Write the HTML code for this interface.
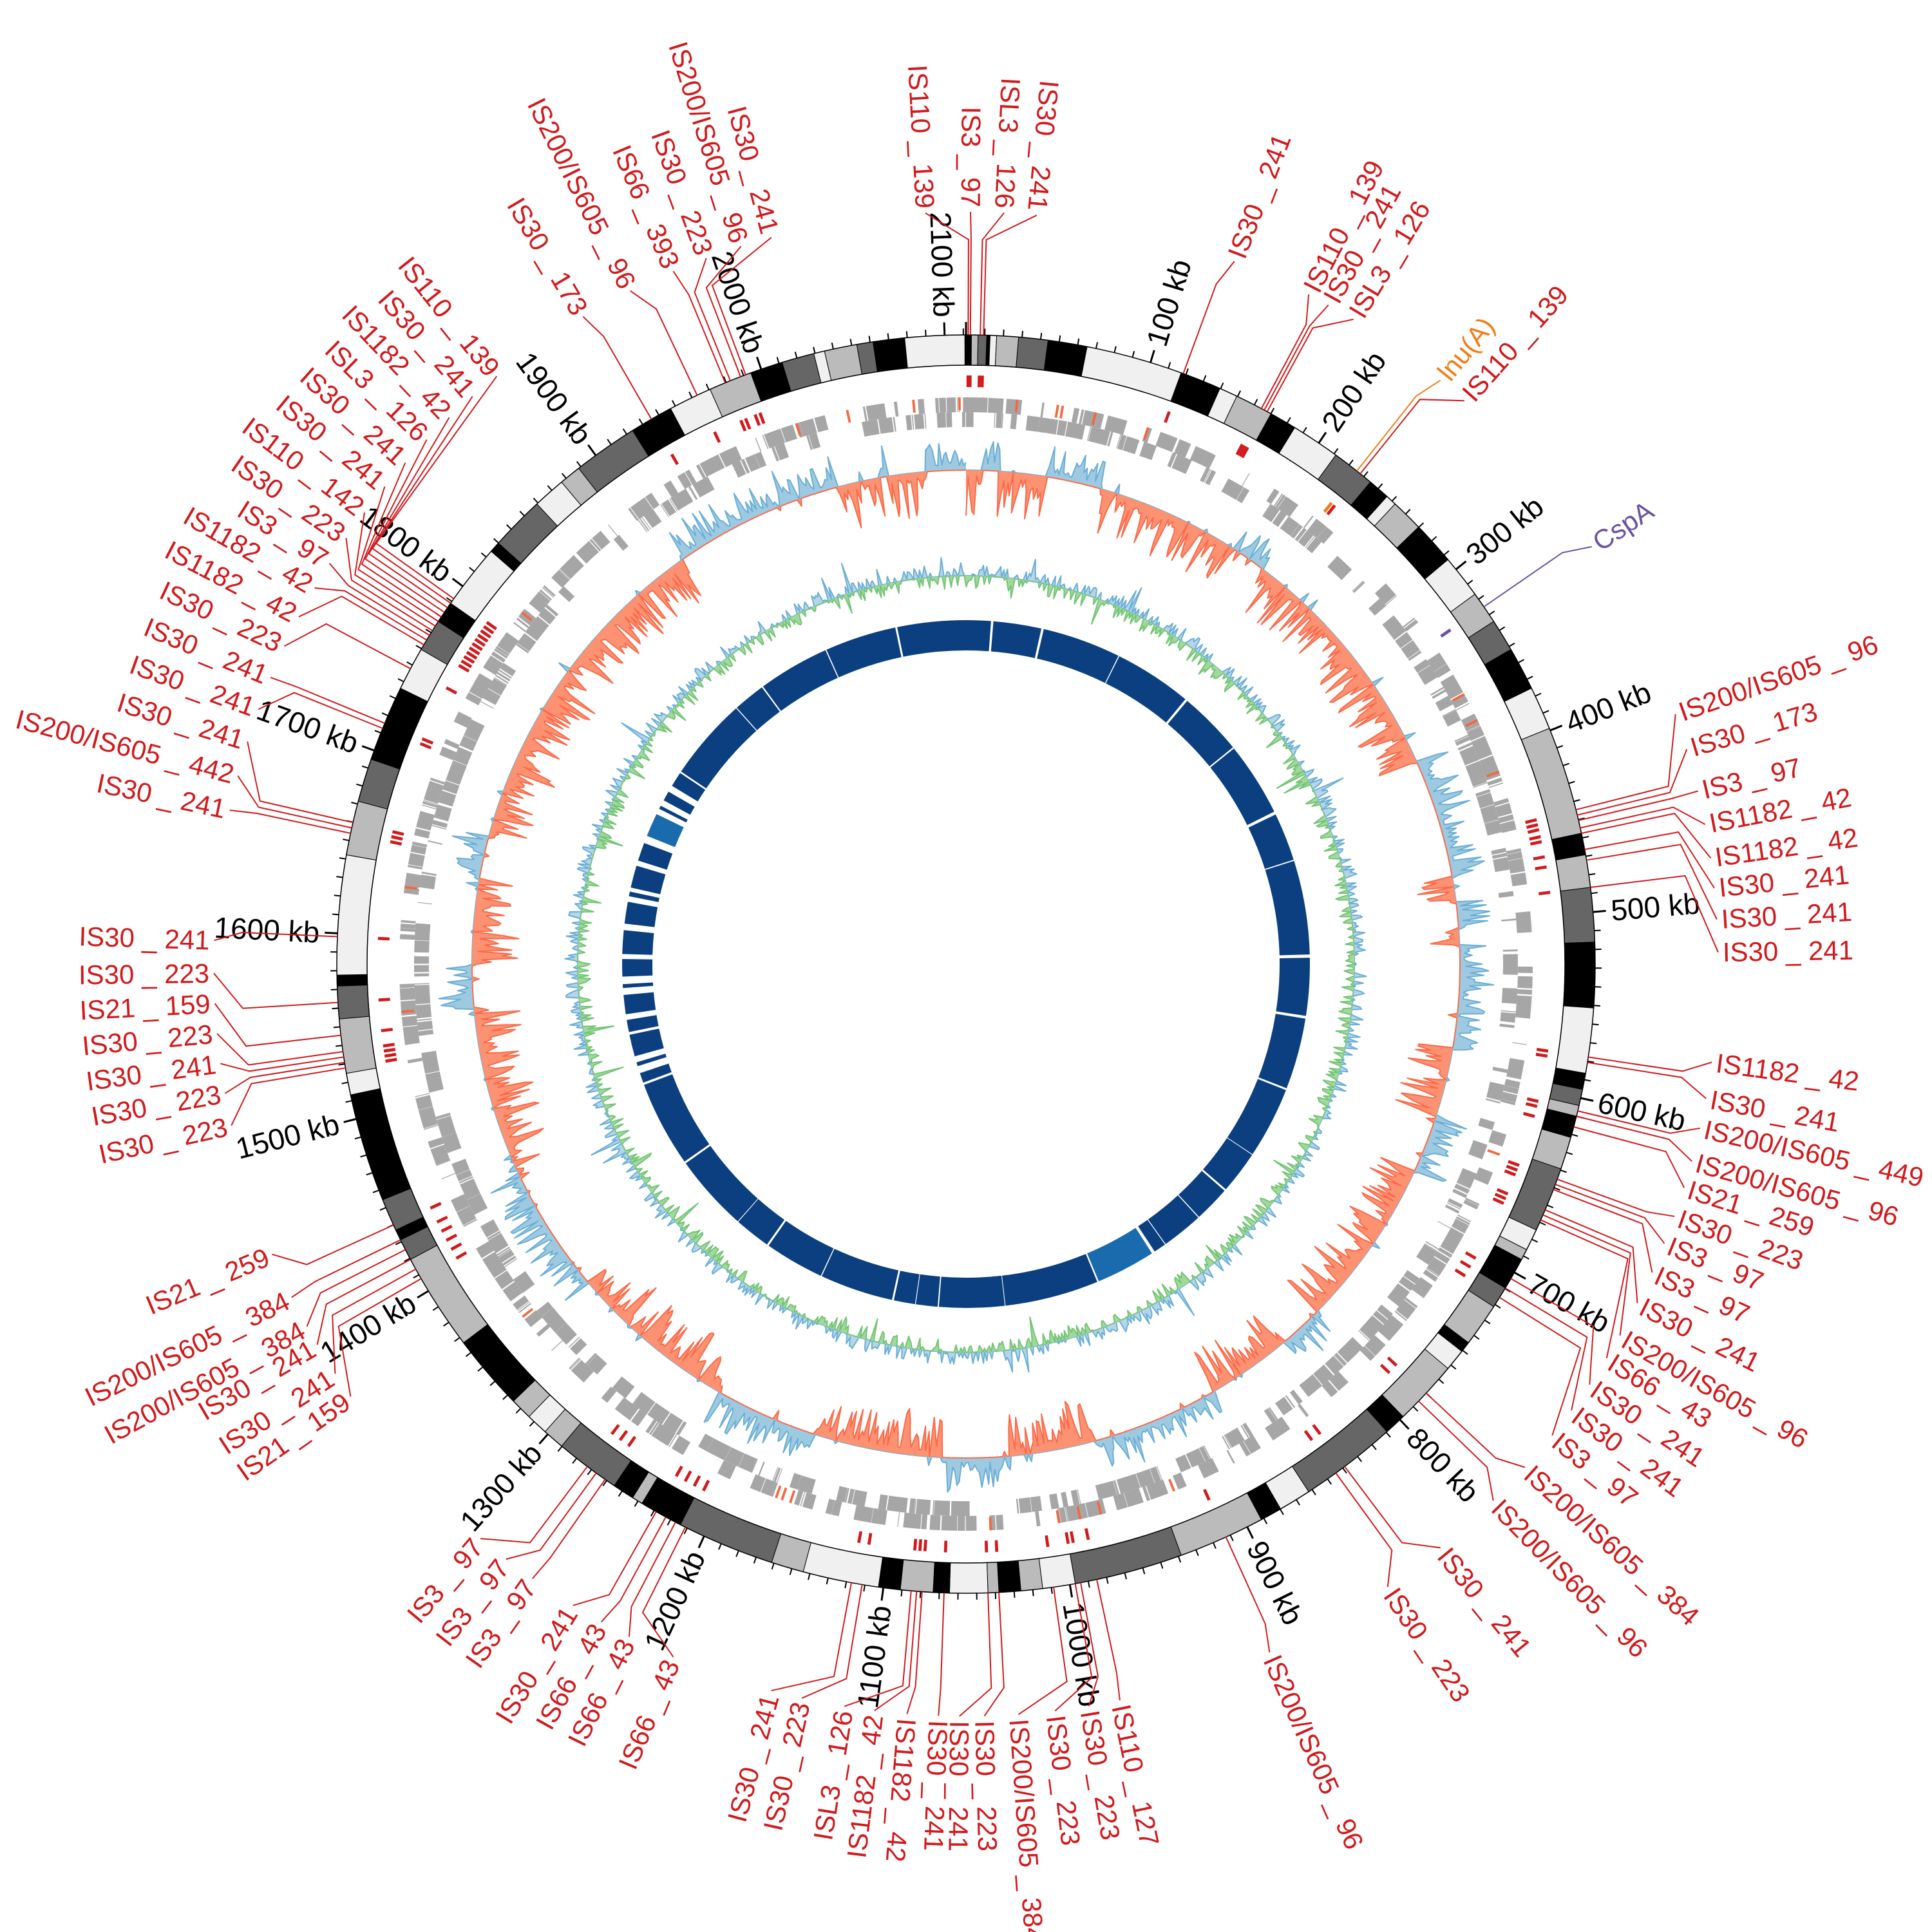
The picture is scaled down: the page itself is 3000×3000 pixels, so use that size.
<!DOCTYPE html>
<html><head><meta charset="utf-8"><style>
html,body{margin:0;padding:0;background:#fff}
svg{display:block}
text{font-family:"Liberation Sans Narrow","Liberation Sans",sans-serif}
</style></head><body>
<svg id="s" xmlns="http://www.w3.org/2000/svg" width="3000" height="3000" viewBox="0 0 3000 3000">
<rect width="3000" height="3000" fill="#fff"/>
<g id="g"></g>
</svg>
<script>
var CX=1500,CY=1497,NS="http://www.w3.org/2000/svg",G=document.getElementById("g");
var seed=12345;function rnd(){seed|=0;seed=seed+0x6D2B79F5|0;var t=Math.imul(seed^seed>>>15,1|seed);t=t+Math.imul(t^t>>>7,61|t)^t;return((t^t>>>14)>>>0)/4294967296;}
function P(r,a){var t=a*Math.PI/180;return[CX+r*Math.sin(t),CY-r*Math.cos(t)];}
function f(n){return n.toFixed(1);}
function sector(r1,r2,a1,a2){var p1=P(r2,a1),p2=P(r2,a2),p3=P(r1,a2),p4=P(r1,a1),l=(a2-a1)>180?1:0;
return"M"+f(p1[0])+","+f(p1[1])+"A"+r2+","+r2+" 0 "+l+" 1 "+f(p2[0])+","+f(p2[1])+"L"+f(p3[0])+","+f(p3[1])+"A"+r1+","+r1+" 0 "+l+" 0 "+f(p4[0])+","+f(p4[1])+"Z";}
function el(n,at,txt){var e=document.createElementNS(NS,n);for(var k in at)e.setAttribute(k,at[k]);if(txt!=null)e.textContent=txt;G.appendChild(e);return e;}
var C={K:"#000",D:"#666",G:"#bbb",L:"#f0f0f0"};
var bands=[[0,"K"],[0.5,"G"],[1.1,"D"],[1.9,"K"],[2.2,"L"],[2.8,"G"],[4.8,"D"],[7.5,"K"],[11.1,"L"],[20,"K"],[23.8,"L"],[25.5,"G"],[29,"K"],[31.5,"L"],[36,"D"],[40,"K"],[42,"L"],[43,"G"],[46,"K"],[50,"L"],[54,"G"],[57,"D"],[60,"K"],[64,"L"],[68,"G"],[78,"K"],[80,"G"],[83,"D"],[88,"K"],[94,"L"],[100,"K"],[101.5,"D"],[103,"G"],[104,"K"],[106,"G"],[109,"D"],[115,"L"],[117,"G"],[118,"K"],[121,"D"],[123,"G"],[127,"K"],[128,"L"],[130,"G"],[136,"K"],[138,"D"],[147,"L"],[150,"K"],[152,"G"],[160,"D"],[170,"L"],[173,"G"],[175,"K"],[177,"G"],[178,"L"],[181.5,"K"],[183,"G"],[186,"K"],[188,"L"],[195,"G"],[198,"D"],[207,"K"],[211,"G"],[212,"K"],[214,"D"],[220,"G"],[222,"L"],[224,"G"],[226,"K"],[233,"G"],[242,"D"],[244,"K"],[245,"D"],[248,"K"],[258,"L"],[260,"G"],[265,"D"],[268,"K"],[269,"L"],[280,"G"],[285,"D"],[289,"K"],[296,"L"],[300,"D"],[303,"K"],[305,"L"],[311,"K"],[312,"D"],[317,"L"],[320,"G"],[322,"D"],[328,"K"],[332,"L"],[336,"G"],[340,"K"],[343,"D"],[346,"L"],[347,"G"],[350,"D"],[351.5,"K"],[354.4,"L"],[359.9,"K"],[360,"K"]];
var R1=930,R2=977;
for(var i=0;i<bands.length-1;i++){el("path",{d:sector(R1,R2,bands[i][0],bands[i+1][0]),fill:C[bands[i][1]],stroke:"#000","stroke-width":1});}
el("circle",{cx:CX,cy:CY,r:R2,fill:"none",stroke:"#000","stroke-width":1.5});
el("circle",{cx:CX,cy:CY,r:R1,fill:"none",stroke:"#000","stroke-width":1.5});
var D100=17.05;
for(var k=0;k<=211;k++){var a=k*D100/10,maj=(k%10==0);var p=P(R2,a),q=P(R2+(maj?20:10),a);el("line",{x1:f(p[0]),y1:f(p[1]),x2:f(q[0]),y2:f(q[1]),stroke:"#000","stroke-width":maj?3:2});}
var tl=["100 kb","200 kb","300 kb","400 kb","500 kb","600 kb","700 kb","800 kb","900 kb","1000 kb","1100 kb","1200 kb","1300 kb","1400 kb","1500 kb","1600 kb","1700 kb","1800 kb","1900 kb","2000 kb","2100 kb"];
function rl(a,r,txt,col,fs){var aa=((a%360)+360)%360;var right=aa>8&&aa<185;var p=P(r,a);
el("text",{x:f(p[0]),y:f(p[1]),fill:col,"font-size":fs,"text-anchor":right?"start":"end","dominant-baseline":"central",transform:"rotate("+f(right?a-90:a+90)+" "+f(p[0])+" "+f(p[1])+")"},txt);}
for(var k=0;k<tl.length;k++)rl((k+1)*D100,1005,tl[k],"#000",46);
function genes(r1,r2,dens){var a=0;while(a<360){var L=0.08+Math.pow(rnd(),2)*2.2;if(rnd()<dens){el("path",{d:sector(r1,r2,a,Math.min(360,a+L)),fill:"#a6a6a6"});}a+=L+rnd()*0.15;}}
genes(857,880,0.58);genes(834,857,0.58);
for(var i=0;i<25;i++){var a=rnd()*360;el("path",{d:sector(860,880,a,a+0.25),fill:"#f4683f"});}
var segs=[[0,2,-1],[2,4,1],[4,9.5,-1],[9.5,16,1],[16,33,-1],[33,37,1],[37,66,-1],[66,80,1],[80,83,-1],[83,86,1],[86,88,-1],[88,100,1],[100,108,-1],[108,115,1],[115,135,-1],[135,140,1],[140,150,-1],[150,165,1],[165,175,-1],[175,183,1],[183,198,-1],[198,210,1],[210,230,-1],[230,245,1],[245,265,-1],[265,270,1],[270,280,-1],[280,285,1],[285,325,-1],[325,345,1],[345,350,-1],[350,351,1],[351,355.3,-1],[355.3,360,1]];
function sgn(a){for(var i=0;i<segs.length;i++)if(a>=segs[i][0]&&a<segs[i][1])return segs[i][2];return 1;}
var st=0.25,vals=[];
for(var i=0;i*st<=360;i++){var a=i*st;var s=sgn(a);var r=rnd();var v=s*(s>0?55:72)*(0.12+0.88*r*r);if(rnd()<0.05)v=-v*0.3;vals.push(v);}
function plot(base,vals,pos,fill,stroke){var pts=[],bp=[];
for(var i=0;i<vals.length;i++){var v=vals[i];v=pos?Math.max(v,0):Math.min(v,0);var q=P(base+v,i*st);pts.push(f(q[0])+","+f(q[1]));}
for(var i=vals.length-1;i>=0;i--){var q=P(base,i*st);bp.push(f(q[0])+","+f(q[1]));}
el("path",{d:"M"+pts.join("L")+"L"+bp.join("L")+"Z",fill:fill,stroke:"none"});
el("polyline",{points:pts.join(" "),fill:"none",stroke:stroke,"stroke-width":2,"stroke-linejoin":"round"});}
plot(767,vals,true,"#9ecae1","#6baed6");plot(767,vals,false,"#fc9272","#fb6a4a");
var gv=[];for(var i=0;i*st<=360;i++){var v=(rnd()-0.5)*40;if(rnd()<0.05)v*=2.5;gv.push(v);}
plot(603,gv,true,"#b5d5ea","#6baed6");plot(603,gv,false,"#a1d99b","#74c476");
var a=0;while(a<360){var left=(a>235&&a<300);var L=left?(0.5+rnd()*3.5):(2+rnd()*14);var e=Math.min(a+L,360);
el("path",{d:sector(487,534,a,e),fill:(rnd()<0.05?"#1a6aae":"#0b3f7f")});a=e+(left?0.4+rnd()*1.2:0.1+rnd()*0.5);}
var R="#d11a1e";
var labs=[
["IS110 _ 139",-3.1,0.2],["IS3 _ 97",0.35,0.4],["ISL3 _ 126",2.9,1.3],["IS30 _ 241",5.4,1.6],
["IS30 _ 241",20.9,20.2],["IS110 _ 139",27.1,28],["IS30 _ 241",28.8,28.3],["ISL3 _ 126",31,28.6],
["lnu(A)",39.1,38.4,"#f07e18"],["IS110 _ 139",41.5,38.8],["CspA",56.3,55.4,"#6a51a3"],
["IS200/IS605 _ 96",70.6,75.8],["IS30 _ 173",73.4,76.3],["IS3 _ 97",76.7,76.8],["IS1182 _ 42",79.3,77.5],["IS1182 _ 42",81.9,78],["IS30 _ 241",84.2,79.5],["IS30 _ 241",86.6,80.5],["IS30 _ 241",89.1,83],
["IS1182 _ 42",97.5,98.5],["IS30 _ 241",100.3,99],["IS200/IS605 _ 449",102.6,103.5],["IS200/IS605 _ 96",105.2,104],["IS21 _ 259",107.3,105],["IS30 _ 223",109.6,110],["IS3 _ 97",111.8,110.5],["IS3 _ 97",114.2,111],
["IS30 _ 241",116.8,113],["IS200/IS605 _ 96",119.6,113.5],["IS66 _ 43",121.6,114],["IS30 _ 241",124,120],["IS30 _ 241",126.4,121],["IS3 _ 97",128.8,122],
["IS200/IS605 _ 384",132,133],["IS200/IS605 _ 96",135.5,134],["IS30 _ 241",140.9,143],["IS30 _ 223",145.9,144],["IS200/IS605 _ 96",156.2,155.6],
["IS110 _ 127",168.2,168],["IS30 _ 223",170.6,169.5],["IS30 _ 223",173.2,170],["IS200/IS605 _ 384",176,172],["IS30 _ 223",178.6,177],["IS30 _ 241",180.5,178],
["IS30 _ 241",182.1,182],["IS1182 _ 42",184.5,184],["IS1182 _ 42",187,184.5],["ISL3 _ 126",189.3,185],["IS30 _ 223",192.6,189.5],["IS30 _ 241",195,190.5],
["IS66 _ 43",202.9,206.5],["IS66 _ 43",206.6,207.5],["IS66 _ 43",209,208.5],["IS30 _ 241",211.5,209.5],
["IS3 _ 97",215.2,215],["IS3 _ 97",217.7,216],["IS3 _ 97",220.2,217],
["IS21 _ 159",234.9,240],["IS30 _ 241",237,241],["IS30 _ 241",239.6,242],["IS200/IS605 _ 384",241.2,243],["IS200/IS605 _ 384",243.7,244],["IS21 _ 259",247.3,245.5],
["IS30 _ 223",257.6,260.5],["IS30 _ 223",260.1,261],["IS30 _ 241",262.4,261.5],["IS30 _ 223",264.7,262],["IS21 _ 159",267,263.5],["IS30 _ 223",269.3,266.5],["IS30 _ 241",271.8,272.5],
["IS30 _ 241",281.8,282],["IS200/IS605 _ 442",284.5,282.5],["IS30 _ 241",287.2,283],["IS30 _ 241",289.8,292],["IS30 _ 241",292.4,292.5],
["IS30 _ 223",295,298],["IS1182 _ 42",297.5,300.5],["IS1182 _ 42",300,301],["IS3 _ 97",302.2,301.5],["IS30 _ 223",304.5,302],["IS110 _ 142",306.9,302.5],["IS30 _ 241",309.4,303],["IS30 _ 241",311.8,303.5],["ISL3 _ 126",314.2,304],["IS1182 _ 42",316.6,304.5],["IS30 _ 241",319,305],["IS110 _ 139",321.4,305.5],
["IS30 _ 173",329.4,330],["IS200/IS605 _ 96",333.5,334.7],["IS66 _ 393",337.1,337.5],["IS30 _ 223",339.8,338],["IS200/IS605 _ 96",342.6,339],["IS30 _ 241",345,339.5]];
for(var i=0;i<labs.length;i++){var L=labs[i],col=L[3]||R,a=L[1],m=L[2];
var p0=P(R2,m),p1=P(1125,m),p2=P(1168,a);
el("polyline",{points:f(p0[0])+","+f(p0[1])+" "+f(p1[0])+","+f(p1[1])+" "+f(p2[0])+","+f(p2[1]),fill:"none",stroke:col,"stroke-width":2});
el("path",{d:sector(896,914,m-0.15,m+0.15),fill:col});
rl(a,1175,L[0],col,42);}
</script>
</body></html>
